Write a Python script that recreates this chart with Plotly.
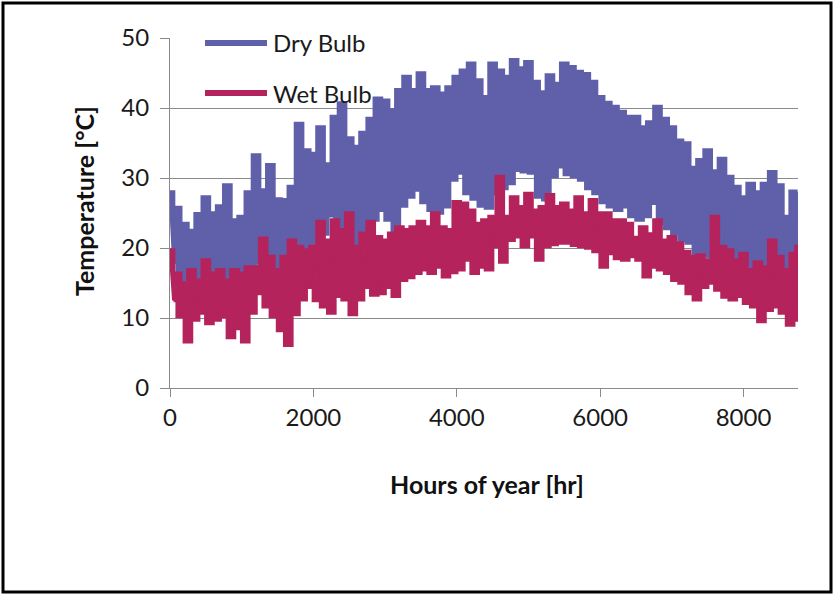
import plotly.graph_objects as go

# ---------------- data ----------------
# Hourly readings shown as an envelope: a high reading every 100 h and a low reading
# 50 h later, so the trace swings between the maxima and minima of the record.
HOURS_HI = list(range(0, 8701, 100))      # 0, 100, ... 8700
HOURS_LO = [h + 50 for h in HOURS_HI]     # 50, 150, ... 8750
HOUR_END = 8760

DRY_HI = [28.0, 25.8, 23.5, 22.5, 24.9, 27.3, 25.0, 26.0, 29.0, 24.0,
          24.5, 28.0, 33.3, 28.3, 31.9, 27.0, 26.9, 28.8, 37.8, 34.0,
          33.5, 37.3, 32.0, 38.8, 40.7, 35.7, 34.5, 36.5, 38.5, 41.4,
          41.1, 39.7, 42.6, 44.5, 42.6, 45.0, 42.6, 43.0, 42.1, 43.0,
          44.5, 45.4, 46.4, 44.0, 41.6, 46.4, 45.4, 44.5, 46.9, 45.7,
          46.6, 43.8, 42.3, 44.7, 43.5, 46.4, 45.9, 45.2, 44.9, 43.8,
          41.6, 40.8, 40.2, 39.5, 38.8, 38.8, 37.3, 38.0, 40.2, 38.5,
          37.3, 35.4, 35.0, 31.5, 32.6, 34.0, 31.0, 32.8, 30.2, 28.8,
          27.3, 29.2, 28.0, 29.2, 30.9, 29.0, 24.5, 28.1]
DRY_LO = [18.0, 15.0, 14.0, 14.0, 15.0, 15.0, 14.0, 15.0, 14.0, 14.0,
          14.0, 15.0, 18.0, 16.0, 15.0, 14.0, 15.0, 17.0, 18.0, 19.0,
          20.0, 22.0, 24.6, 23.0, 22.0, 20.0, 18.8, 21.0, 24.0, 25.4,
          24.0, 21.5, 26.0, 27.3, 28.3, 26.5, 25.4, 25.0, 25.9, 29.7,
          30.7, 27.8, 27.0, 26.0, 25.7, 27.8, 28.5, 29.2, 31.1, 30.9,
          30.7, 27.3, 26.9, 30.2, 31.6, 30.5, 30.2, 29.7, 28.5, 27.8,
          26.5, 25.9, 25.4, 25.9, 24.5, 24.0, 24.5, 26.4, 23.5, 22.8,
          22.1, 21.1, 20.7, 19.2, 19.0, 18.8, 18.8, 18.5, 18.3, 18.3,
          17.5, 16.9, 16.9, 17.3, 16.5, 16.4, 15.4, 19.2]
DRY_END = 27.8

WET_HI = [19.7, 16.4, 15.0, 16.9, 15.4, 18.3, 16.4, 16.9, 15.4, 16.9,
          16.4, 17.3, 17.3, 21.4, 18.8, 16.9, 18.8, 21.1, 20.2, 19.7,
          20.2, 23.8, 21.1, 24.0, 22.6, 25.0, 20.2, 22.1, 23.8, 21.6,
          21.1, 22.1, 23.0, 22.6, 23.0, 23.8, 23.0, 25.0, 23.0, 22.6,
          26.6, 26.4, 25.4, 23.5, 24.0, 24.5, 30.2, 24.5, 27.3, 25.9,
          27.8, 25.4, 25.9, 27.6, 25.9, 26.4, 25.4, 27.3, 25.0, 26.9,
          25.0, 25.0, 24.0, 24.0, 23.5, 21.5, 23.0, 22.0, 24.0, 21.1,
          21.6, 20.7, 19.5, 18.8, 19.0, 18.3, 24.5, 20.2, 19.7, 18.3,
          19.2, 16.9, 18.0, 17.3, 21.1, 18.8, 16.9, 19.2]
WET_LO = [12.5, 10.2, 6.6, 9.7, 10.7, 9.2, 9.7, 10.2, 7.2, 8.5,
          6.6, 10.7, 13.5, 11.6, 10.2, 8.2, 6.1, 10.5, 12.6, 14.4,
          12.5, 11.6, 10.7, 13.1, 12.6, 10.5, 12.6, 14.4, 13.3, 13.5,
          14.4, 13.1, 15.4, 15.8, 16.4, 16.9, 16.4, 17.3, 15.9, 16.5,
          16.9, 18.3, 16.4, 17.3, 16.9, 20.2, 18.0, 21.1, 21.6, 20.2,
          21.6, 18.3, 20.2, 20.5, 20.7, 20.7, 20.4, 20.2, 20.0, 19.5,
          17.3, 19.2, 18.5, 18.3, 18.8, 18.3, 15.9, 17.3, 16.9, 16.4,
          15.4, 15.0, 13.5, 12.6, 14.4, 15.0, 14.0, 13.0, 12.6, 13.1,
          12.1, 11.6, 9.5, 11.1, 11.6, 10.7, 9.0, 9.7]
WET_END = 20.2

SERIES_NAMES = ["Dry Bulb", "Wet Bulb"]
X_TICKS = [0, 2000, 4000, 6000, 8000]
Y_TICKS = [0, 10, 20, 30, 40, 50]

DRY_COLOR = "#5f60a9"
WET_COLOR = "#b5235c"
GRID = "#8a8a8a"
FONT = "Lato"


def zigzag(hi, lo, end):
    xs, ys = [], []
    for h1, h2, a, b in zip(HOURS_HI, HOURS_LO, hi, lo):
        xs += [h1, h2]
        ys += [a, b]
    xs.append(HOUR_END)
    ys.append(end)
    return xs, ys


def band(hi, lo, end):
    # outline of the envelope: highs forward, lows backward
    xs = HOURS_HI + [HOUR_END] + [HOUR_END] + HOURS_LO[::-1]
    ys = hi + [end] + [lo[-1]] + lo[::-1]
    return xs, ys


fig = go.Figure()
for name, hi, lo, end, col in [
    (SERIES_NAMES[0], DRY_HI, DRY_LO, DRY_END, DRY_COLOR),
    (SERIES_NAMES[1], WET_HI, WET_LO, WET_END, WET_COLOR),
]:
    bx, by = band(hi, lo, end)
    fig.add_trace(go.Scatter(x=bx, y=by, mode="lines", fill="toself",
                             fillcolor=col,
                             line=dict(color=col, width=3.5, shape="hvh"),
                             hoverinfo="skip", showlegend=False))
    xs, ys = zigzag(hi, lo, end)
    fig.add_trace(go.Scatter(x=xs, y=ys, mode="lines", name=name,
                             line=dict(color=col, width=3), showlegend=False))

# plot area (screen px): x 170..798, y 38..388
L, R, T, B = 170, 798, 38, 388
W, H = 834, 595
pw, ph = R - L, B - T


def px(xp):
    return (xp - L) / pw


def py(yp):
    return (B - yp) / ph


fig.update_layout(
    width=W, height=H,
    margin=dict(l=L, r=W - R, t=T, b=H - B),
    paper_bgcolor="white", plot_bgcolor="white",
    font=dict(family=FONT, size=24, color="#1a1a1a"),
    xaxis=dict(range=[0, HOUR_END], tickvals=X_TICKS,
               ticktext=[str(v) for v in X_TICKS],
               showgrid=False, zeroline=False,
               showline=True, linecolor=GRID, linewidth=1,
               ticks="outside", ticklen=8, tickcolor=GRID,
               tickfont=dict(family=FONT, size=24, color="#1a1a1a")),
    yaxis=dict(range=[0, 50], tickvals=Y_TICKS,
               showgrid=True, gridcolor=GRID, gridwidth=1, zeroline=False,
               showline=True, linecolor=GRID, linewidth=1,
               ticks="outside", ticklen=9, tickcolor=GRID,
               ticklabelstandoff=6,
               tickfont=dict(family=FONT, size=24, color="#1a1a1a")),
    showlegend=False,
)

# axis titles
fig.add_annotation(text="<b>Temperature [°C]</b>", xref="paper", yref="paper",
                   x=px(84), y=py(201), showarrow=False, textangle=-90,
                   font=dict(family=FONT, size=25, color="#111111"),
                   xanchor="center", yanchor="middle")
fig.add_annotation(text="<b>Hours of year [hr]</b>", xref="paper", yref="paper",
                   x=px(487), y=py(484), showarrow=False,
                   font=dict(family=FONT, size=25, color="#111111"),
                   xanchor="center", yanchor="middle")

# legend drawn inside plot area
for i, (name, col) in enumerate(zip(SERIES_NAMES, [DRY_COLOR, WET_COLOR])):
    yl = 43 + i * 50
    fig.add_shape(type="line", xref="paper", yref="paper",
                  x0=px(205), x1=px(267), y0=py(yl), y1=py(yl),
                  line=dict(color=col, width=6))
    fig.add_annotation(text=name, xref="paper", yref="paper",
                       x=px(271), y=py(yl), showarrow=False,
                       xanchor="left", yanchor="middle",
                       font=dict(family=FONT, size=24, color="#1a1a1a"))

# outer frame
fig.add_shape(type="rect", xref="paper", yref="paper",
              x0=px(3), x1=px(831), y0=py(592), y1=py(3),
              line=dict(color="black", width=3), layer="above")

fig.write_html("out.html",
               config={"displayModeBar": False},
               post_script="document.body.style.margin='0px';"
                           "document.body.style.padding='0px';")
